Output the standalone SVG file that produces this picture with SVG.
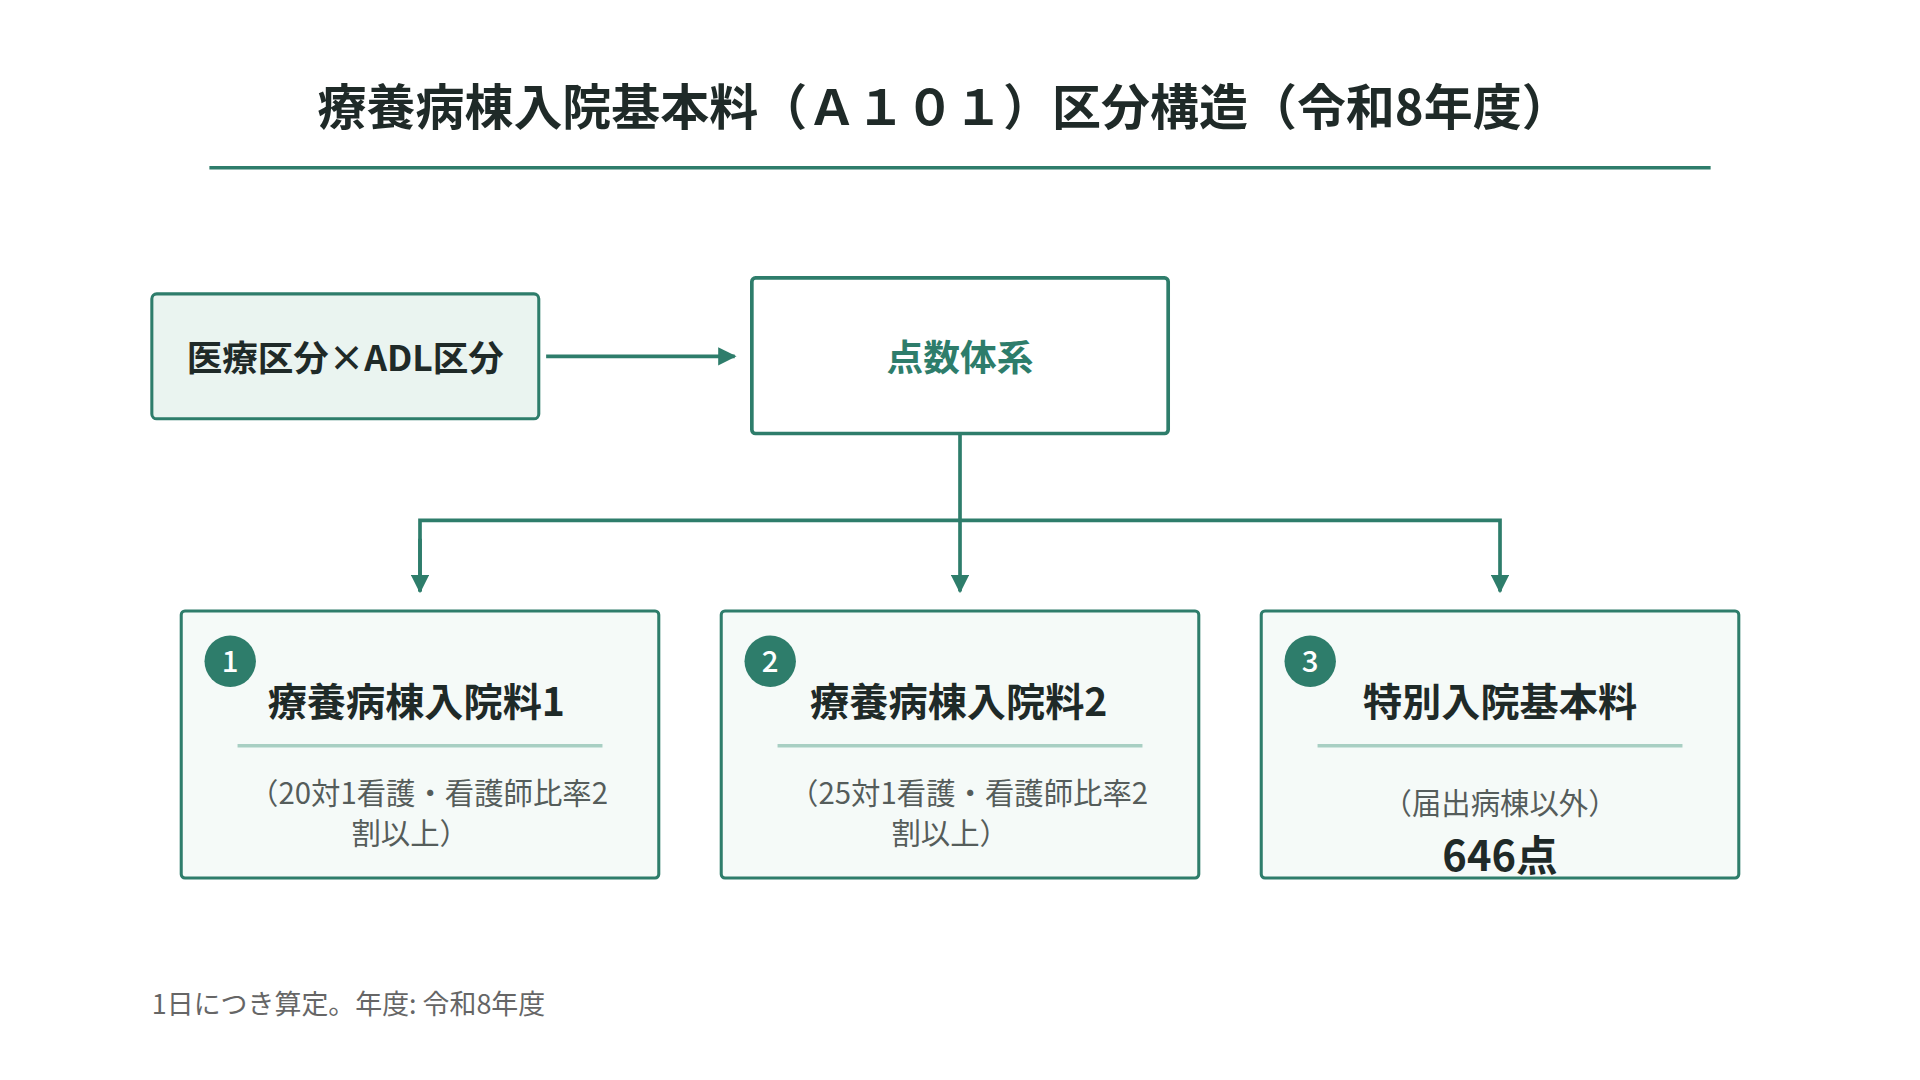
<svg xmlns="http://www.w3.org/2000/svg" width="1920" height="1080" viewBox="0 0 1920 1080">
<style>
text{font-family:"Noto Sans CJK JP","Noto Sans",sans-serif}
.b{font-weight:700;fill:#1f2a28}
.s{fill:#555d5b;font-size:24px}
.box{fill:#f5faf8;stroke:#2e7d6b;stroke-width:2.5}
.ln{stroke:#2e7d6b;stroke-width:3;fill:none}
.num{fill:#fff;font-size:24px;font-weight:500}
</style>
<defs><marker id="ah" viewBox="0 0 10 10" refX="9" refY="5" markerWidth="5" markerHeight="5" orient="auto"><path d="M0,0L10,5L0,10z" fill="#2e7d6b"/></marker></defs>
<rect width="1920" height="1080" fill="#fff"/>
<g transform="scale(1.2245)">
<g id="title"><text x="771" y="102" text-anchor="middle" class="b" font-size="40">療養病棟入院基本料（Ａ１０１）区分構造（令和8年度）</text>
<line x1="171" y1="137" x2="1397" y2="137" stroke="#2e7d6b" stroke-width="3"/></g>
<g id="connectors">
<line class="ln" x1="446" y1="291" x2="600" y2="291" marker-end="url(#ah)"/>
<polyline class="ln" points="784,355 784,483" marker-end="url(#ah)"/>
<polyline class="ln" points="343,483 343,425 1225,425 1225,483" marker-end="url(#ah)"/>
<line class="ln" x1="343" y1="440" x2="343" y2="483" marker-end="url(#ah)"/>
</g>
<g id="input"><rect x="124" y="240" width="316" height="102" rx="4" fill="#eaf4f0" stroke="#2e7d6b" stroke-width="2.5"/>
<text x="282" y="303" text-anchor="middle" class="b" font-size="29">医療区分×ADL区分</text></g>
<g id="system"><rect x="614" y="227" width="340" height="127" rx="3" fill="#fff" stroke="#2e7d6b" stroke-width="3"/>
<text x="784" y="303" text-anchor="middle" font-size="30" font-weight="700" fill="#2e7d6b">点数体系</text></g>
<g id="n1"><rect class="box" x="148" y="499" width="390" height="218" rx="3"/>
<circle cx="188" cy="540" r="21" fill="#2e7d6b"/><text x="188" y="549" text-anchor="middle" class="num">1</text>
<text x="340" y="585" text-anchor="middle" class="b" font-size="32">療養病棟入院料1</text>
<line x1="194" y1="609" x2="492" y2="609" stroke="#a8cfc3" stroke-width="3"/>
<text x="350" y="657" text-anchor="middle" class="s">（20対1看護・看護師比率2</text>
<text x="335" y="689" text-anchor="middle" class="s">割以上）</text></g>
<g id="n2"><rect class="box" x="589" y="499" width="390" height="218" rx="3"/>
<circle cx="629" cy="540" r="21" fill="#2e7d6b"/><text x="629" y="549" text-anchor="middle" class="num">2</text>
<text x="783" y="585" text-anchor="middle" class="b" font-size="32">療養病棟入院料2</text>
<line x1="635" y1="609" x2="933" y2="609" stroke="#a8cfc3" stroke-width="3"/>
<text x="791" y="657" text-anchor="middle" class="s">（25対1看護・看護師比率2</text>
<text x="776" y="689" text-anchor="middle" class="s">割以上）</text></g>
<g id="n3"><rect class="box" x="1030" y="499" width="390" height="218" rx="3"/>
<circle cx="1070" cy="540" r="21" fill="#2e7d6b"/><text x="1070" y="549" text-anchor="middle" class="num">3</text>
<text x="1225" y="585" text-anchor="middle" class="b" font-size="32">特別入院基本料</text>
<line x1="1076" y1="609" x2="1374" y2="609" stroke="#a8cfc3" stroke-width="3"/>
<text x="1225" y="665" text-anchor="middle" class="s">（届出病棟以外）</text>
<text x="1225" y="711" text-anchor="middle" class="b" font-size="34" font-family="Inter,sans-serif">646点</text></g>
<text x="124" y="828" font-size="22" fill="#666">1日につき算定。年度: 令和8年度</text>
</g>
</svg>
